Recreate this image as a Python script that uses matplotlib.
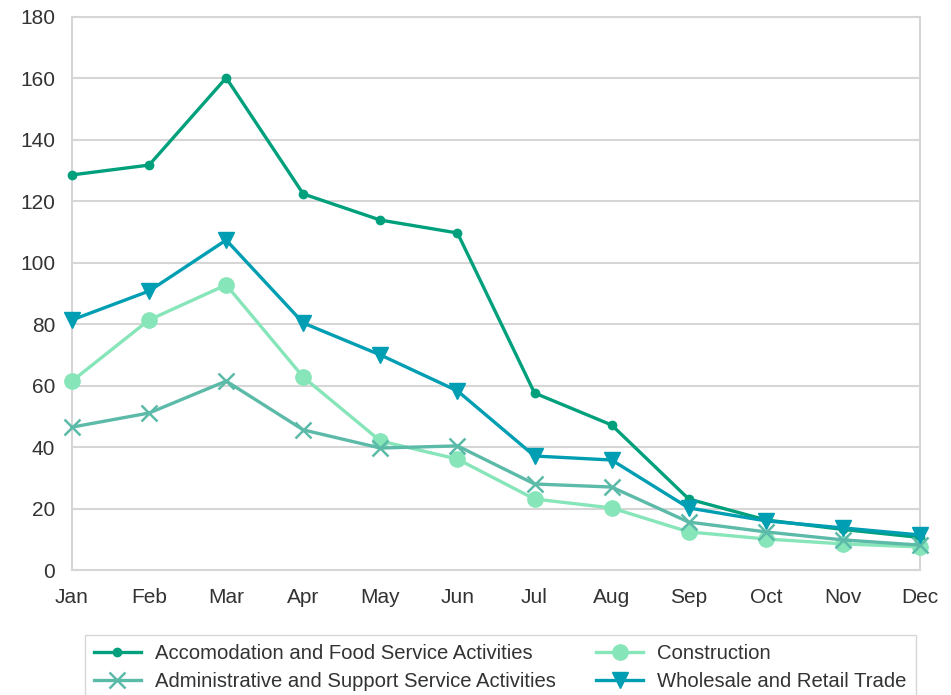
import matplotlib
matplotlib.use("Agg")
import matplotlib.pyplot as plt

months = ["Jan", "Feb", "Mar", "Apr", "May", "Jun", "Jul", "Aug", "Sep", "Oct", "Nov", "Dec"]
accommodation = [128.6, 131.8, 160.2, 122.4, 113.9, 109.7, 57.6, 47.2, 23.1, 16.3, 13.2, 10.6]
construction = [61.5, 81.4, 92.8, 62.8, 42.0, 36.1, 23.1, 20.2, 12.4, 10.1, 8.5, 7.5]
administrative = [46.5, 51.1, 61.5, 45.6, 39.7, 40.4, 28.0, 27.0, 15.6, 12.4, 9.8, 8.1]
wholesale = [81.4, 90.8, 107.4, 80.4, 70.0, 58.3, 37.1, 35.8, 20.2, 16.0, 13.7, 11.4]
yticks = [0, 20, 40, 60, 80, 100, 120, 140, 160, 180]

plt.rcParams['font.family'] = ['Liberation Sans', 'DejaVu Sans']

fig = plt.figure(figsize=(9.51, 6.95), dpi=100)
ax = fig.add_axes([72/951, 1-570/695, (920-72)/951, (570-17)/695])

x = list(range(len(months)))
h1, = ax.plot(x, accommodation, color="#00a07c", lw=2.4, marker="o", ms=6,
              label="Accomodation and Food Service Activities", clip_on=False, zorder=3)
h2, = ax.plot(x, construction, color="#86e5b9", lw=2.4, marker="o", ms=11,
              label="Construction", clip_on=False, zorder=3)
h3, = ax.plot(x, administrative, color="#5cbaa9", lw=2.4, marker="x", ms=11, mew=1.8,
              label="Administrative and Support Service Activities", clip_on=False, zorder=3)
h4, = ax.plot(x, wholesale, color="#009eb2", lw=2.4, marker="v", ms=12,
              label="Wholesale and Retail Trade", clip_on=False, zorder=3)

ax.set_xlim(0, 11)
ax.set_ylim(0, 180)
ax.set_xticks(x)
ax.set_xticklabels(months)
ax.set_yticks(yticks)
ax.tick_params(axis="both", length=0, labelsize=15, labelcolor="#333333")
ax.tick_params(axis="x", pad=13)
ax.tick_params(axis="y", pad=12)
ax.grid(axis="y", color="#d6d6d6", lw=1.5)
ax.set_axisbelow(True)
for side in ["left", "right", "bottom", "top"]:
    ax.spines[side].set_color("#d6d6d6")
    ax.spines[side].set_linewidth(1.5)

fig.legend([h1, h3, h2, h4], [h1.get_label(), h3.get_label(), h2.get_label(), h4.get_label()],
           ncol=2, loc="upper center", bbox_to_anchor=(0.526, 1-625/695),
           fontsize=14.6, frameon=True, edgecolor="#cccccc", fancybox=False,
           handlelength=2.3, handletextpad=0.7, columnspacing=2.0, labelspacing=0.45,
           borderpad=0.45, labelcolor="#333333")

fig.savefig("out.png", dpi=100)
